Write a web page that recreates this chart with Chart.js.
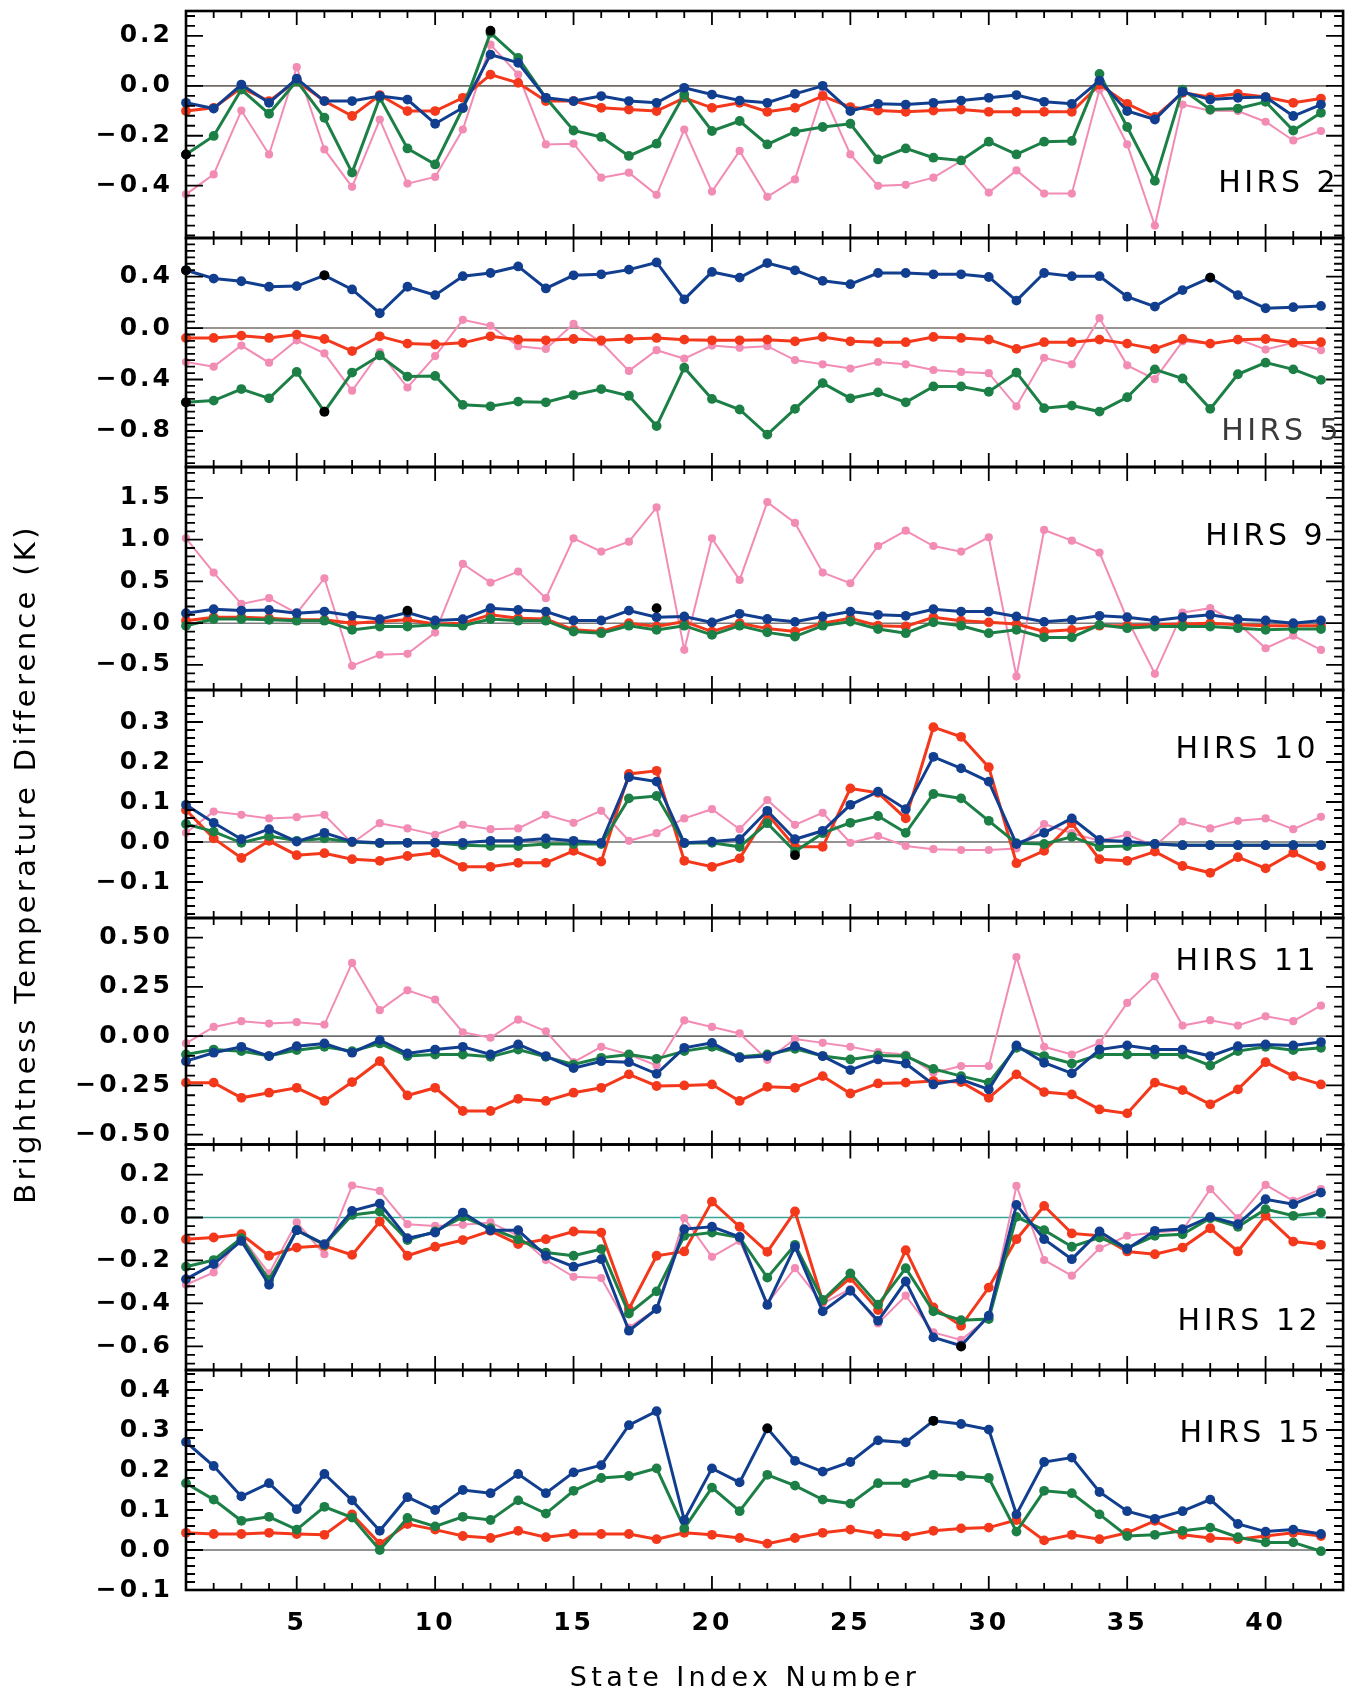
<!DOCTYPE html>
<html lang="en">
<head>
<meta charset="utf-8">
<title>HIRS brightness temperature differences by state index</title>
<script src="https://cdn.jsdelivr.net/npm/chart.js@4.4.1/dist/chart.umd.min.js"></script>
<style>
  html, body { margin: 0; padding: 0; background: #ffffff; }
  #stage { position: relative; width: 1348px; height: 1693px; overflow: hidden; }
  #chart { display: block; }
</style>
</head>
<body>
<div id="stage"><canvas id="chart" width="1348" height="1693"></canvas></div>
<script>
// ---------------- data ----------------
const stateIndex = [1,2,3,4,5,6,7,8,9,10,11,12,13,14,15,16,17,18,19,20,21,22,23,24,25,26,27,28,29,30,31,32,33,34,35,36,37,38,39,40,41,42];
const xTickValues = [5,10,15,20,25,30,35,40];

const panelNames = ['HIRS 2','HIRS 5','HIRS 9','HIRS 10','HIRS 11','HIRS 12','HIRS 15'];
const yMin = [-0.61, -1.08, -0.80, -0.19, -0.55, -0.71, -0.10];
const yMax = [ 0.30,  0.70,  1.87,  0.38,  0.60,  0.34,  0.45];
const yTickValues = [
  [0.2, 0, -0.2, -0.4],
  [0.4, 0, -0.4, -0.8],
  [1.5, 1.0, 0.5, 0, -0.5],
  [0.3, 0.2, 0.1, 0, -0.1],
  [0.5, 0.25, 0, -0.25, -0.5],
  [0.2, 0, -0.2, -0.4, -0.6],
  [0.4, 0.3, 0.2, 0.1, 0, -0.1]
];
const yTickDecimals = [1, 1, 1, 1, 2, 1, 1];
const yMinorStep = [0.04, 0.05, 0.1, 0.02, 0.05, 0.04, 0.02];

// HIRS 2
const hirs2Blue  = [-0.068,-0.091,0.005,-0.068,0.029,-0.061,-0.061,-0.041,-0.055,-0.152,-0.088,0.125,0.092,-0.048,-0.061,-0.041,-0.061,-0.068,-0.008,-0.035,-0.059,-0.068,-0.032,0.000,-0.101,-0.072,-0.075,-0.068,-0.059,-0.048,-0.037,-0.064,-0.072,0.021,-0.101,-0.135,-0.024,-0.055,-0.048,-0.045,-0.121,-0.075];
const hirs2Green = [-0.275,-0.201,-0.015,-0.112,0.019,-0.128,-0.348,-0.048,-0.251,-0.315,-0.090,0.212,0.112,-0.048,-0.179,-0.205,-0.281,-0.232,-0.035,-0.181,-0.141,-0.235,-0.184,-0.165,-0.152,-0.295,-0.251,-0.288,-0.299,-0.224,-0.275,-0.224,-0.221,0.048,-0.165,-0.381,-0.015,-0.095,-0.091,-0.064,-0.179,-0.108];
const hirs2Red   = [-0.101,-0.088,-0.008,-0.061,0.019,-0.061,-0.121,-0.037,-0.101,-0.101,-0.048,0.045,0.012,-0.061,-0.061,-0.088,-0.095,-0.101,-0.048,-0.088,-0.068,-0.104,-0.088,-0.041,-0.085,-0.099,-0.104,-0.099,-0.095,-0.104,-0.104,-0.104,-0.104,0.005,-0.072,-0.125,-0.028,-0.045,-0.032,-0.045,-0.068,-0.051];
const hirs2Pink  = [-0.435,-0.355,-0.099,-0.275,0.075,-0.255,-0.405,-0.135,-0.392,-0.365,-0.175,0.165,0.045,-0.235,-0.232,-0.368,-0.348,-0.437,-0.175,-0.424,-0.261,-0.445,-0.375,-0.028,-0.275,-0.401,-0.397,-0.368,-0.301,-0.428,-0.339,-0.432,-0.432,-0.015,-0.235,-0.560,-0.075,-0.100,-0.101,-0.144,-0.219,-0.181];
const hirs2MarkIdx = [1, 12];
const hirs2MarkVal = [-0.275, 0.221];

// HIRS 5
const hirs5Blue  = [0.449,0.385,0.364,0.321,0.326,0.410,0.300,0.115,0.321,0.256,0.403,0.428,0.479,0.308,0.410,0.418,0.454,0.510,0.223,0.436,0.392,0.505,0.449,0.367,0.341,0.428,0.428,0.418,0.418,0.397,0.213,0.428,0.403,0.403,0.244,0.167,0.295,0.392,0.256,0.154,0.162,0.172];
const hirs5Green = [-0.577,-0.564,-0.474,-0.546,-0.341,-0.650,-0.346,-0.213,-0.377,-0.372,-0.597,-0.608,-0.572,-0.577,-0.521,-0.474,-0.526,-0.762,-0.308,-0.551,-0.633,-0.828,-0.628,-0.428,-0.546,-0.500,-0.577,-0.454,-0.454,-0.495,-0.346,-0.623,-0.603,-0.649,-0.538,-0.321,-0.392,-0.628,-0.359,-0.269,-0.321,-0.403];
const hirs5Red   = [-0.077,-0.077,-0.059,-0.077,-0.051,-0.085,-0.179,-0.064,-0.121,-0.128,-0.115,-0.064,-0.090,-0.095,-0.085,-0.095,-0.085,-0.077,-0.090,-0.095,-0.095,-0.090,-0.103,-0.069,-0.103,-0.110,-0.110,-0.069,-0.077,-0.090,-0.162,-0.110,-0.110,-0.090,-0.121,-0.162,-0.085,-0.121,-0.090,-0.085,-0.115,-0.110];
const hirs5Pink  = [-0.264,-0.300,-0.136,-0.269,-0.095,-0.197,-0.487,-0.187,-0.462,-0.218,0.064,0.018,-0.141,-0.162,0.033,-0.110,-0.333,-0.172,-0.238,-0.136,-0.154,-0.141,-0.249,-0.282,-0.315,-0.264,-0.282,-0.326,-0.341,-0.351,-0.608,-0.231,-0.282,0.077,-0.290,-0.397,-0.103,-0.121,-0.085,-0.167,-0.115,-0.172];
const hirs5MarkIdx = [1, 1, 6, 6, 38];
const hirs5MarkVal = [0.449, -0.577, 0.410, -0.650, 0.392];

// HIRS 9
const hirs9Blue  = [0.120,0.167,0.151,0.159,0.120,0.139,0.088,0.048,0.127,0.032,0.048,0.179,0.159,0.139,0.032,0.032,0.151,0.072,0.080,0.008,0.112,0.050,0.016,0.080,0.139,0.100,0.088,0.167,0.139,0.139,0.080,0.016,0.040,0.088,0.072,0.032,0.072,0.100,0.048,0.032,0.000,0.032];
const hirs9Green = [-0.03,0.05,0.05,0.04,0.03,0.03,-0.08,-0.04,-0.04,-0.02,-0.03,0.05,0.03,0.03,-0.10,-0.12,-0.03,-0.08,-0.03,-0.14,-0.03,-0.11,-0.16,-0.03,0.02,-0.07,-0.12,0.01,-0.03,-0.12,-0.08,-0.17,-0.17,-0.02,-0.06,-0.04,-0.04,-0.04,-0.06,-0.08,-0.07,-0.07];
const hirs9Red   = [0.03,0.07,0.07,0.06,0.04,0.04,0.00,0.02,0.04,-0.01,0.00,0.10,0.06,0.05,-0.08,-0.10,0.00,-0.04,0.02,-0.10,0.00,-0.065,-0.10,0.00,0.06,-0.03,-0.04,0.07,0.03,0.01,-0.01,-0.10,-0.08,-0.03,-0.03,-0.02,-0.01,0.00,-0.02,-0.03,-0.03,-0.03];
const hirs9Pink  = [1.016,0.606,0.231,0.299,0.120,0.538,-0.510,-0.378,-0.367,-0.112,0.709,0.486,0.618,0.299,1.016,0.857,0.976,1.386,-0.319,1.016,0.518,1.450,1.200,0.606,0.478,0.924,1.108,0.924,0.857,1.028,-0.637,1.116,0.988,0.845,0.050,-0.606,0.127,0.180,0.000,-0.300,-0.150,-0.320];
const hirs9MarkIdx = [9, 18];
const hirs9MarkVal = [0.150, 0.180];

// HIRS 10
const hirs10Blue  = [0.093,0.048,0.007,0.032,0.001,0.023,0.001,-0.002,-0.002,-0.002,-0.002,0.003,0.003,0.009,0.003,-0.002,0.162,0.151,-0.002,0.001,0.007,0.078,0.007,0.028,0.093,0.126,0.082,0.213,0.184,0.151,-0.005,0.023,0.059,0.005,0.001,-0.005,-0.008,-0.008,-0.008,-0.008,-0.008,-0.008];
const hirs10Green = [0.045,0.026,-0.002,0.015,0.003,0.009,0.000,-0.003,-0.002,-0.002,-0.008,-0.010,-0.010,-0.005,-0.005,-0.005,0.109,0.115,-0.003,-0.002,-0.012,0.047,-0.024,0.022,0.048,0.065,0.023,0.120,0.109,0.053,-0.003,-0.005,0.013,-0.012,-0.010,-0.005,-0.008,-0.008,-0.008,-0.008,-0.008,-0.008];
const hirs10Red   = [0.080,0.009,-0.040,0.003,-0.033,-0.028,-0.043,-0.047,-0.035,-0.027,-0.062,-0.062,-0.052,-0.052,-0.022,-0.049,0.170,0.178,-0.047,-0.062,-0.041,0.070,-0.012,-0.012,0.134,0.123,0.059,0.287,0.263,0.187,-0.053,-0.022,0.047,-0.043,-0.047,-0.024,-0.060,-0.077,-0.038,-0.066,-0.027,-0.060];
const hirs10Pink  = [0.023,0.076,0.068,0.059,0.062,0.068,-0.003,0.047,0.034,0.018,0.043,0.032,0.034,0.068,0.048,0.078,0.003,0.022,0.059,0.082,0.032,0.105,0.043,0.073,-0.002,0.015,-0.010,-0.018,-0.020,-0.020,-0.016,0.045,0.022,0.003,0.018,-0.010,0.051,0.034,0.053,0.059,0.032,0.063];
const hirs10MarkIdx = [23];
const hirs10MarkVal = [-0.033];

// HIRS 11
const hirs11Blue  = [-0.127,-0.084,-0.054,-0.101,-0.051,-0.037,-0.084,-0.020,-0.088,-0.068,-0.054,-0.093,-0.042,-0.101,-0.162,-0.127,-0.132,-0.191,-0.059,-0.034,-0.110,-0.101,-0.051,-0.101,-0.172,-0.118,-0.139,-0.245,-0.220,-0.270,-0.047,-0.135,-0.189,-0.068,-0.047,-0.068,-0.068,-0.101,-0.051,-0.042,-0.047,-0.030];
const hirs11Green = [-0.093,-0.068,-0.076,-0.101,-0.071,-0.054,-0.076,-0.037,-0.101,-0.093,-0.093,-0.105,-0.068,-0.105,-0.144,-0.110,-0.093,-0.115,-0.076,-0.054,-0.105,-0.093,-0.064,-0.101,-0.118,-0.098,-0.101,-0.166,-0.203,-0.236,-0.059,-0.101,-0.139,-0.093,-0.093,-0.093,-0.093,-0.149,-0.076,-0.054,-0.071,-0.059];
const hirs11Red   = [-0.236,-0.236,-0.313,-0.287,-0.262,-0.329,-0.233,-0.127,-0.301,-0.262,-0.380,-0.380,-0.318,-0.329,-0.287,-0.262,-0.194,-0.253,-0.250,-0.245,-0.329,-0.257,-0.262,-0.203,-0.291,-0.240,-0.236,-0.228,-0.233,-0.313,-0.194,-0.284,-0.296,-0.372,-0.392,-0.236,-0.274,-0.346,-0.270,-0.132,-0.203,-0.245];
const hirs11Pink  = [-0.037,0.047,0.076,0.064,0.071,0.059,0.372,0.132,0.233,0.186,0.020,-0.008,0.084,0.025,-0.132,-0.054,-0.093,-0.149,0.080,0.047,0.014,-0.120,-0.014,-0.034,-0.054,-0.081,-0.093,-0.186,-0.152,-0.152,0.402,-0.054,-0.093,-0.034,0.169,0.304,0.054,0.081,0.054,0.101,0.076,0.155];
const hirs11MarkIdx = [];
const hirs11MarkVal = [];

// HIRS 12
const hirs12Blue  = [-0.287,-0.217,-0.109,-0.313,-0.059,-0.124,0.031,0.065,-0.096,-0.070,0.023,-0.059,-0.059,-0.178,-0.229,-0.194,-0.527,-0.426,-0.054,-0.043,-0.090,-0.407,-0.136,-0.437,-0.341,-0.481,-0.298,-0.558,-0.597,-0.457,0.059,-0.101,-0.194,-0.065,-0.147,-0.062,-0.054,0.003,-0.031,0.085,0.062,0.116];
const hirs12Green = [-0.229,-0.198,-0.096,-0.291,-0.059,-0.127,0.012,0.028,-0.105,-0.065,0.003,-0.050,-0.101,-0.163,-0.178,-0.147,-0.447,-0.344,-0.085,-0.070,-0.093,-0.280,-0.127,-0.384,-0.260,-0.406,-0.236,-0.437,-0.478,-0.473,0.003,-0.059,-0.136,-0.093,-0.143,-0.085,-0.078,-0.003,-0.043,0.039,0.008,0.023];
const hirs12Red   = [-0.101,-0.093,-0.078,-0.178,-0.140,-0.132,-0.174,-0.019,-0.178,-0.136,-0.105,-0.062,-0.124,-0.101,-0.065,-0.070,-0.426,-0.178,-0.158,0.074,-0.043,-0.160,0.028,-0.388,-0.282,-0.431,-0.152,-0.419,-0.504,-0.326,-0.101,0.054,-0.074,-0.085,-0.158,-0.171,-0.140,-0.050,-0.158,0.008,-0.112,-0.127];
const hirs12Pink  = [-0.313,-0.256,-0.090,-0.260,-0.023,-0.171,0.149,0.124,-0.031,-0.039,-0.034,-0.023,-0.085,-0.198,-0.276,-0.282,-0.512,-0.426,-0.003,-0.183,-0.109,-0.400,-0.236,-0.400,-0.333,-0.493,-0.364,-0.535,-0.570,-0.465,0.147,-0.198,-0.271,-0.143,-0.085,-0.070,-0.059,0.132,-0.003,0.152,0.078,0.132];
const hirs12MarkIdx = [29];
const hirs12MarkVal = [-0.601];

// HIRS 15
const hirs15Blue  = [0.270,0.210,0.134,0.167,0.102,0.190,0.124,0.048,0.132,0.100,0.150,0.142,0.190,0.142,0.194,0.212,0.312,0.347,0.075,0.204,0.169,0.304,0.223,0.196,0.220,0.274,0.269,0.323,0.315,0.301,0.089,0.220,0.231,0.145,0.097,0.078,0.097,0.126,0.065,0.046,0.051,0.040];
const hirs15Green = [0.167,0.126,0.073,0.083,0.051,0.108,0.081,0.000,0.080,0.059,0.083,0.075,0.124,0.091,0.148,0.180,0.185,0.204,0.054,0.156,0.097,0.188,0.161,0.126,0.116,0.167,0.167,0.188,0.185,0.180,0.046,0.148,0.142,0.089,0.035,0.038,0.048,0.056,0.032,0.019,0.019,-0.003];
const hirs15Red   = [0.043,0.040,0.040,0.043,0.040,0.038,0.089,0.016,0.065,0.051,0.035,0.030,0.048,0.032,0.040,0.040,0.040,0.027,0.043,0.038,0.030,0.016,0.030,0.043,0.051,0.040,0.035,0.048,0.054,0.056,0.075,0.024,0.038,0.027,0.043,0.073,0.038,0.030,0.027,0.035,0.043,0.035];
const hirs15Pink  = null;
const hirs15MarkIdx = [22, 28];
const hirs15MarkVal = [0.304, 0.323];

// ---------------- layout & style ----------------
const panelHeightWeight = [227, 229, 223, 228, 226.5, 225.5, 220];
const labelRightInset = [4, 1, 17, 24, 24, 22, 20];
const labelAtValue = [-0.393, -0.807, 1.03, 0.23, 0.377, -0.487, 0.29];
const labelColor = ['#000', '#3a3a3a', '#000', '#000', '#000', '#000', '#000'];
const zeroLineColor = ['#6f6a64', '#77716b', '#7a7a7a', '#6f6f6f', '#6f6f6f', '#3aa596', '#6f6f6f'];
const zeroLineEnd = 42.25;
const FONT = '"DejaVu Sans", "Liberation Sans", Arial, sans-serif';

const styles = {
  blue:  { color: '#113e8e', width: 3.0, radius: 4.9 },
  green: { color: '#1c7f46', width: 3.0, radius: 4.9 },
  red:   { color: '#f4381c', width: 3.0, radius: 4.9 },
  pink:  { color: '#f28cb4', width: 2.0, radius: 4.1 },
  mark:  { color: '#000000', width: 0,   radius: 4.9 }
};

const panels = [
  { blue: hirs2Blue,  green: hirs2Green,  red: hirs2Red,  pink: hirs2Pink,  markIdx: hirs2MarkIdx,  markVal: hirs2MarkVal },
  { blue: hirs5Blue,  green: hirs5Green,  red: hirs5Red,  pink: hirs5Pink,  markIdx: hirs5MarkIdx,  markVal: hirs5MarkVal },
  { blue: hirs9Blue,  green: hirs9Green,  red: hirs9Red,  pink: hirs9Pink,  markIdx: hirs9MarkIdx,  markVal: hirs9MarkVal },
  { blue: hirs10Blue, green: hirs10Green, red: hirs10Red, pink: hirs10Pink, markIdx: hirs10MarkIdx, markVal: hirs10MarkVal },
  { blue: hirs11Blue, green: hirs11Green, red: hirs11Red, pink: hirs11Pink, markIdx: hirs11MarkIdx, markVal: hirs11MarkVal },
  { blue: hirs12Blue, green: hirs12Green, red: hirs12Red, pink: hirs12Pink, markIdx: hirs12MarkIdx, markVal: hirs12MarkVal },
  { blue: hirs15Blue, green: hirs15Green, red: hirs15Red, pink: hirs15Pink, markIdx: hirs15MarkIdx, markVal: hirs15MarkVal }
];

// ---------------- datasets ----------------
function lineSet(values, key, axisId, label) {
  const s = styles[key];
  return {
    label: label,
    data: values.map((v, i) => ({ x: stateIndex[i], y: v })),
    yAxisID: axisId,
    xAxisID: 'x',
    borderColor: s.color,
    backgroundColor: s.color,
    borderWidth: s.width,
    pointRadius: s.radius,
    pointBackgroundColor: s.color,
    pointBorderColor: s.color,
    pointBorderWidth: 0,
    tension: 0,
    clip: false
  };
}

const datasets = [];
panels.forEach((pn, p) => {
  const axisId = 'y' + p;
  // dataset index 0 is painted last, so the list runs top layer first
  datasets.push({
    label: panelNames[p] + ' marks',
    data: pn.markIdx.map((x, i) => ({ x: x, y: pn.markVal[i] })),
    yAxisID: axisId, xAxisID: 'x', showLine: false,
    pointRadius: styles.mark.radius, pointBackgroundColor: styles.mark.color,
    pointBorderColor: styles.mark.color, pointBorderWidth: 0,
    borderColor: styles.mark.color, backgroundColor: styles.mark.color, clip: false
  });
  datasets.push(lineSet(pn.blue, 'blue', axisId, panelNames[p] + ' blue'));
  datasets.push(lineSet(pn.green, 'green', axisId, panelNames[p] + ' green'));
  datasets.push(lineSet(pn.red, 'red', axisId, panelNames[p] + ' red'));
  if (pn.pink) datasets.push(lineSet(pn.pink, 'pink', axisId, panelNames[p] + ' pink'));
});

// ---------------- scales ----------------
function fmtTick(v, dec) {
  const s = Math.abs(v).toFixed(dec);
  return (v < -1e-9 ? '\u2212' : '') + s;
}

const scales = {
  x: {
    type: 'linear',
    position: 'bottom',
    min: 1,
    max: 42.8,
    grid: { display: false, drawTicks: false },
    border: { display: false },
    ticks: {
      autoSkip: false, maxRotation: 0, padding: 18, color: '#000',
      font: { family: FONT, size: 25, weight: 'bold' },
      callback: (v) => String(v)
    },
    afterBuildTicks: (scale) => { scale.ticks = xTickValues.map(v => ({ value: v })); },
    afterFit: (scale) => { scale.height = 103; scale.paddingLeft = 0; scale.paddingRight = 0; }
  }
};

panelNames.forEach((name, p) => {
  scales['y' + p] = {
    type: 'linear',
    position: 'left',
    stack: 'panels',
    stackWeight: panelHeightWeight[p],
    weight: panelNames.length - p,
    min: yMin[p],
    max: yMax[p],
    grid: { display: false, drawTicks: false },
    border: { display: false },
    ticks: {
      autoSkip: false, padding: 13, color: '#000',
      font: { family: FONT, size: 25, weight: 'bold' },
      callback: (v) => fmtTick(v, yTickDecimals[p])
    },
    afterBuildTicks: (scale) => { scale.ticks = yTickValues[p].map(v => ({ value: v })); },
    afterFit: (scale) => { scale.width = 186; scale.paddingTop = 0; scale.paddingBottom = 0; }
  };
});

// ---------------- frames, ticks, reference lines, labels ----------------
const panelDecor = {
  id: 'panelDecor',
  beforeDraw(chart) {
    chart.ctx.letterSpacing = '3px';
  },
  beforeDatasetsDraw(chart) {
    const { ctx, scales } = chart;
    const xs = scales.x;
    ctx.save();
    ctx.letterSpacing = '0px';
    panelNames.forEach((name, p) => {
      const ys = scales['y' + p];
      const y0 = ys.getPixelForValue(0);
      ctx.strokeStyle = zeroLineColor[p];
      ctx.lineWidth = 1.6;
      ctx.beginPath();
      ctx.moveTo(xs.getPixelForValue(stateIndex[0]), y0);
      ctx.lineTo(xs.getPixelForValue(zeroLineEnd), y0);
      ctx.stroke();
    });
    ctx.restore();
  },
  afterDatasetsDraw(chart) {
    const { ctx, scales, chartArea } = chart;
    const xs = scales.x;
    const left = chartArea.left, right = chartArea.right;
    ctx.save();
    ctx.strokeStyle = '#000';
    ctx.lineCap = 'butt';
    panelNames.forEach((name, p) => {
      const ys = scales['y' + p];
      const top = ys.top, bottom = ys.bottom;
      ctx.lineWidth = 1.8;
      ctx.beginPath();
      stateIndex.forEach(i => {
        const x = xs.getPixelForValue(i);
        const len = i % 5 === 0 ? 14 : 7;
        ctx.moveTo(x, top); ctx.lineTo(x, top + len);
        ctx.moveTo(x, bottom); ctx.lineTo(x, bottom - len);
      });
      const step = yMinorStep[p];
      for (let k = Math.ceil(ys.min / step - 1e-6); k * step <= ys.max + 1e-9; k++) {
        const v = k * step;
        const major = yTickValues[p].some(t => Math.abs(t - v) < 1e-6);
        const y = ys.getPixelForValue(v);
        const len = major ? 17 : 9;
        ctx.moveTo(left, y); ctx.lineTo(left + len, y);
        ctx.moveTo(right, y); ctx.lineTo(right - len, y);
      }
      ctx.stroke();
      ctx.lineWidth = 2.6;
      ctx.strokeRect(left, top, right - left, bottom - top);
    });
    ctx.restore();
  },
  afterDraw(chart) {
    const { ctx, scales, chartArea } = chart;
    ctx.save();
    // panel names
    ctx.font = 'normal 30px ' + FONT;
    ctx.letterSpacing = '3.5px';
    ctx.textAlign = 'right';
    ctx.textBaseline = 'middle';
    panelNames.forEach((name, p) => {
      const ys = scales['y' + p];
      ctx.fillStyle = labelColor[p];
      ctx.fillText(name, chartArea.right - labelRightInset[p], ys.getPixelForValue(labelAtValue[p]));
    });
    // axis titles
    ctx.fillStyle = '#000';
    ctx.textAlign = 'center';
    ctx.font = 'normal 27px ' + FONT;
    ctx.letterSpacing = '4.4px';
    ctx.fillText('State Index Number', 745, 1679);
    ctx.translate(27, 864);
    ctx.rotate(-Math.PI / 2);
    ctx.font = 'normal 29px ' + FONT;
    ctx.letterSpacing = '3.3px';
    ctx.fillText('Brightness Temperature Difference (K)', 0, 0);
    ctx.restore();
  }
};

new Chart(document.getElementById('chart'), {
  type: 'line',
  data: { datasets: datasets },
  options: {
    responsive: false,
    devicePixelRatio: 1,
    animation: false,
    events: [],
    layout: { padding: { top: 11, left: 0, right: 0, bottom: 0 } },
    plugins: { legend: { display: false }, tooltip: { enabled: false }, title: { display: false } },
    scales: scales
  },
  plugins: [panelDecor]
});
</script>
</body>
</html>
